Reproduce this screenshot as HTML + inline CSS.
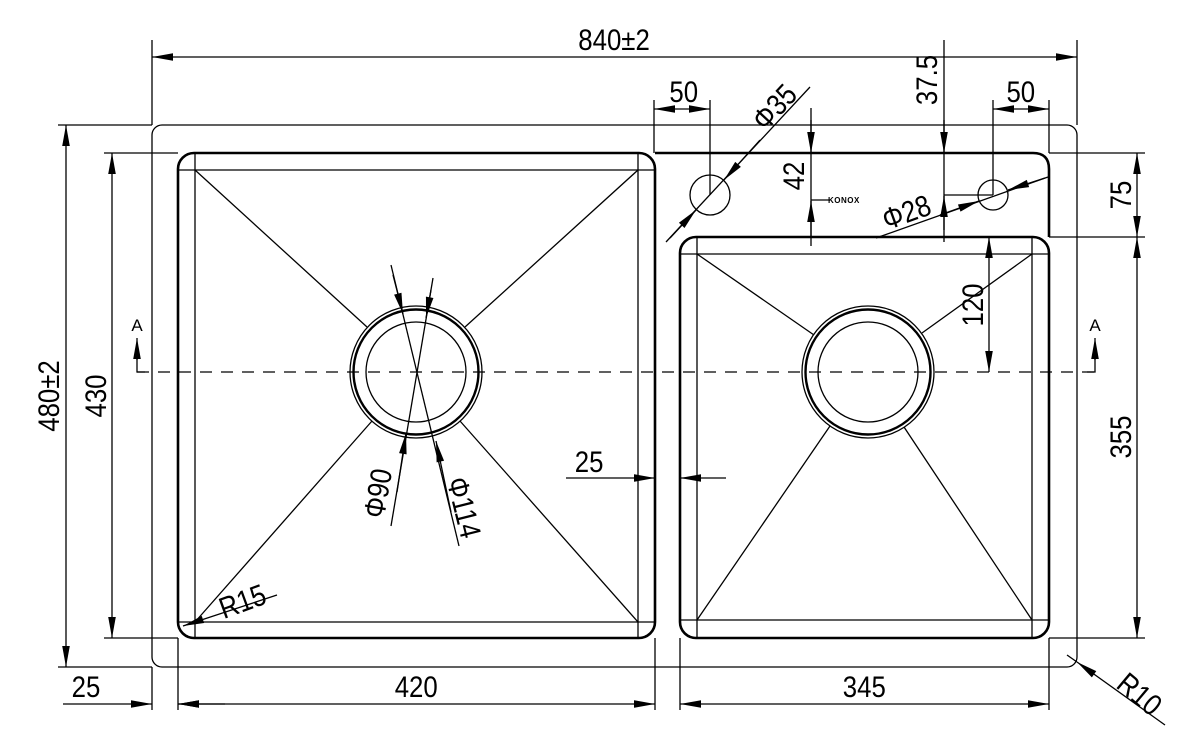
<!DOCTYPE html>
<html><head><meta charset="utf-8"><style>
html,body{margin:0;padding:0;background:#fff;}
svg{display:block;}
text{font-family:"Liberation Sans",sans-serif;font-size:30px;fill:#000;}
</style></head><body>
<svg width="1201" height="751" viewBox="0 0 1201 751" xmlns="http://www.w3.org/2000/svg">
<defs>
<marker id="a" markerUnits="userSpaceOnUse" markerWidth="24" markerHeight="10" viewBox="-22 -5 24 10" refX="0" refY="0" orient="auto-start-reverse">
<path d="M0,0 L-21,-3.8 L-21,3.8 z" fill="#000"/>
</marker>
</defs>
<g fill="none" stroke="#000" stroke-width="1.3">
<rect x="152" y="125" width="925" height="542" rx="10"/>
<rect x="178" y="153" width="477" height="485" rx="16" stroke-width="2.6"/>
<path d="M655,153 L1033,153 Q1049,153 1049,169 L1049,237" stroke-width="2.6"/>
<rect x="680" y="237" width="369" height="401" rx="16" stroke-width="2.6"/>
<line x1="195" y1="153" x2="195" y2="638"/>
<line x1="638" y1="153" x2="638" y2="638"/>
<line x1="178" y1="170" x2="655" y2="170"/>
<line x1="178" y1="622" x2="655" y2="622"/>
<line x1="697" y1="237" x2="697" y2="638"/>
<line x1="1032" y1="237" x2="1032" y2="638"/>
<line x1="680" y1="254" x2="1049" y2="254"/>
<line x1="680" y1="620" x2="1049" y2="620"/>
<line x1="195" y1="170" x2="367" y2="327"/>
<line x1="638" y1="170" x2="465" y2="327"/>
<line x1="195" y1="622" x2="372" y2="421"/>
<line x1="638" y1="622" x2="460" y2="421"/>
<line x1="697" y1="254" x2="814" y2="335"/>
<line x1="1032" y1="254" x2="922" y2="333"/>
<line x1="697" y1="620" x2="830" y2="426"/>
<line x1="1032" y1="620" x2="904" y2="427"/>
<circle cx="416" cy="372" r="66"/>
<circle cx="416" cy="372" r="62.5" stroke-width="2.4"/>
<circle cx="416" cy="372" r="50"/>
<circle cx="868" cy="372" r="66"/>
<circle cx="868" cy="372" r="62.5" stroke-width="2.4"/>
<circle cx="868" cy="372" r="50"/>
<line x1="137" y1="372" x2="1097" y2="372" stroke-dasharray="12 9"/>
<path d="M137,345 L137,372 L145,372"/>
<line x1="137" y1="360" x2="137" y2="338" marker-end="url(#a)"/>
<path d="M1095,345 L1095,372 L1087,372"/>
<line x1="1095" y1="360" x2="1095" y2="338" marker-end="url(#a)"/>
<circle cx="710" cy="195" r="20"/>
<circle cx="993" cy="195" r="15"/>
<line x1="152" y1="40" x2="152" y2="125"/>
<line x1="1077" y1="40" x2="1077" y2="125"/>
<line x1="152" y1="57" x2="1077" y2="57" marker-start="url(#a)" marker-end="url(#a)"/>
<line x1="58" y1="125" x2="152" y2="125"/>
<line x1="58" y1="667" x2="152" y2="667"/>
<line x1="66" y1="125" x2="66" y2="667" marker-start="url(#a)" marker-end="url(#a)"/>
<line x1="104" y1="153" x2="178" y2="153"/>
<line x1="104" y1="638" x2="178" y2="638"/>
<line x1="112" y1="153" x2="112" y2="638" marker-start="url(#a)" marker-end="url(#a)"/>
<line x1="1049" y1="153" x2="1145" y2="153"/>
<line x1="1049" y1="237" x2="1145" y2="237"/>
<line x1="1049" y1="638" x2="1145" y2="638"/>
<line x1="1137" y1="153" x2="1137" y2="237" marker-start="url(#a)" marker-end="url(#a)"/>
<line x1="1137" y1="237" x2="1137" y2="638" marker-start="url(#a)" marker-end="url(#a)"/>
<line x1="989" y1="237" x2="989" y2="372" marker-start="url(#a)" marker-end="url(#a)"/>
<line x1="654" y1="100" x2="654" y2="153"/>
<line x1="710" y1="100" x2="710" y2="195"/>
<line x1="654" y1="109" x2="710" y2="109" marker-start="url(#a)" marker-end="url(#a)"/>
<line x1="993" y1="100" x2="993" y2="195"/>
<line x1="1049" y1="100" x2="1049" y2="153"/>
<line x1="993" y1="109" x2="1049" y2="109" marker-start="url(#a)" marker-end="url(#a)"/>
<line x1="666" y1="242" x2="810" y2="87"/>
<line x1="760" y1="140" x2="724" y2="180" marker-end="url(#a)"/>
<line x1="670" y1="238" x2="696" y2="210" marker-end="url(#a)"/>
<line x1="944" y1="40" x2="944" y2="242"/>
<line x1="944" y1="120" x2="944" y2="153" marker-end="url(#a)"/>
<line x1="944" y1="230" x2="944" y2="196" marker-end="url(#a)"/>
<line x1="944" y1="195" x2="993" y2="195"/>
<line x1="811" y1="108" x2="811" y2="246"/>
<line x1="811" y1="120" x2="811" y2="153" marker-end="url(#a)"/>
<line x1="811" y1="236" x2="811" y2="201" marker-end="url(#a)"/>
<line x1="811" y1="200" x2="830" y2="200"/>
<line x1="876" y1="238" x2="1048" y2="177"/>
<line x1="940" y1="215" x2="979" y2="201" marker-end="url(#a)"/>
<line x1="1045" y1="178" x2="1008" y2="190" marker-end="url(#a)"/>
<line x1="152" y1="667" x2="152" y2="710"/>
<line x1="178" y1="638" x2="178" y2="710"/>
<line x1="655" y1="638" x2="655" y2="710"/>
<line x1="680" y1="638" x2="680" y2="710"/>
<line x1="1049" y1="638" x2="1049" y2="710"/>
<line x1="178" y1="704" x2="655" y2="704" marker-start="url(#a)" marker-end="url(#a)"/>
<line x1="680" y1="704" x2="1049" y2="704" marker-start="url(#a)" marker-end="url(#a)"/>
<line x1="63" y1="704" x2="152" y2="704" marker-end="url(#a)"/>
<line x1="225" y1="704" x2="178" y2="704" marker-end="url(#a)"/>
<line x1="566" y1="478" x2="655" y2="478" marker-end="url(#a)"/>
<line x1="726" y1="478" x2="680" y2="478" marker-end="url(#a)"/>
<line x1="277" y1="595" x2="183" y2="626" marker-end="url(#a)"/>
<line x1="1165" y1="725" x2="1077" y2="662" marker-end="url(#a)"/>
<line x1="1067" y1="655" x2="1077" y2="662"/>
<line x1="391" y1="265" x2="459" y2="546"/>
<line x1="433" y1="278" x2="391" y2="526"/>
<line x1="393" y1="275" x2="403" y2="314" marker-end="url(#a)"/>
<line x1="431" y1="290" x2="426" y2="318" marker-end="url(#a)"/>
<line x1="451" y1="512" x2="436" y2="441" marker-end="url(#a)"/>
<line x1="397" y1="492" x2="406" y2="433" marker-end="url(#a)"/>
</g>
<g transform="scale(0.86,1)">
<text x="714" y="50" text-anchor="middle">840±2</text>
<text x="795" y="102" text-anchor="middle">50</text>
<text x="1187" y="102" text-anchor="middle">50</text>
<text x="685" y="472" text-anchor="middle">25</text>
<text x="484" y="697" text-anchor="middle">420</text>
<text x="1005" y="697" text-anchor="middle">345</text>
<text x="100" y="697" text-anchor="middle">25</text>
</g>
<text x="137" y="331" text-anchor="middle" style="font-size:17px">A</text>
<text x="1095" y="331" text-anchor="middle" style="font-size:17px">A</text>
<text transform="translate(59,396) rotate(-90) scale(0.86,1)" text-anchor="middle">480±2</text>
<text transform="translate(106,396) rotate(-90) scale(0.86,1)" text-anchor="middle">430</text>
<text transform="translate(1131,195) rotate(-90) scale(0.86,1)" text-anchor="middle">75</text>
<text transform="translate(1131,437) rotate(-90) scale(0.86,1)" text-anchor="middle">355</text>
<text transform="translate(983,305) rotate(-90) scale(0.86,1)" text-anchor="middle">120</text>
<text transform="translate(937,80) rotate(-90) scale(0.86,1)" text-anchor="middle">37.5</text>
<text transform="translate(804,176) rotate(-90) scale(0.86,1)" text-anchor="middle">42</text>
<text transform="translate(782,114) rotate(-47) scale(0.86,1)" text-anchor="middle">Φ35</text>
<text transform="translate(910,222) rotate(-20) scale(0.86,1)" text-anchor="middle">Φ28</text>
<text transform="translate(246,611) rotate(-20) scale(0.86,1)" text-anchor="middle">R15</text>
<text transform="translate(1133,702) rotate(40) scale(0.86,1)" text-anchor="middle">R10</text>
<text transform="translate(388,495) rotate(-80) scale(0.86,1)" text-anchor="middle">Φ90</text>
<text transform="translate(454,510) rotate(76) scale(0.86,1)" text-anchor="middle">Φ114</text>
<text x="828" y="203" style="font-size:8px;font-weight:bold;letter-spacing:0.5px">KONOX</text>
</svg>
</body></html>
